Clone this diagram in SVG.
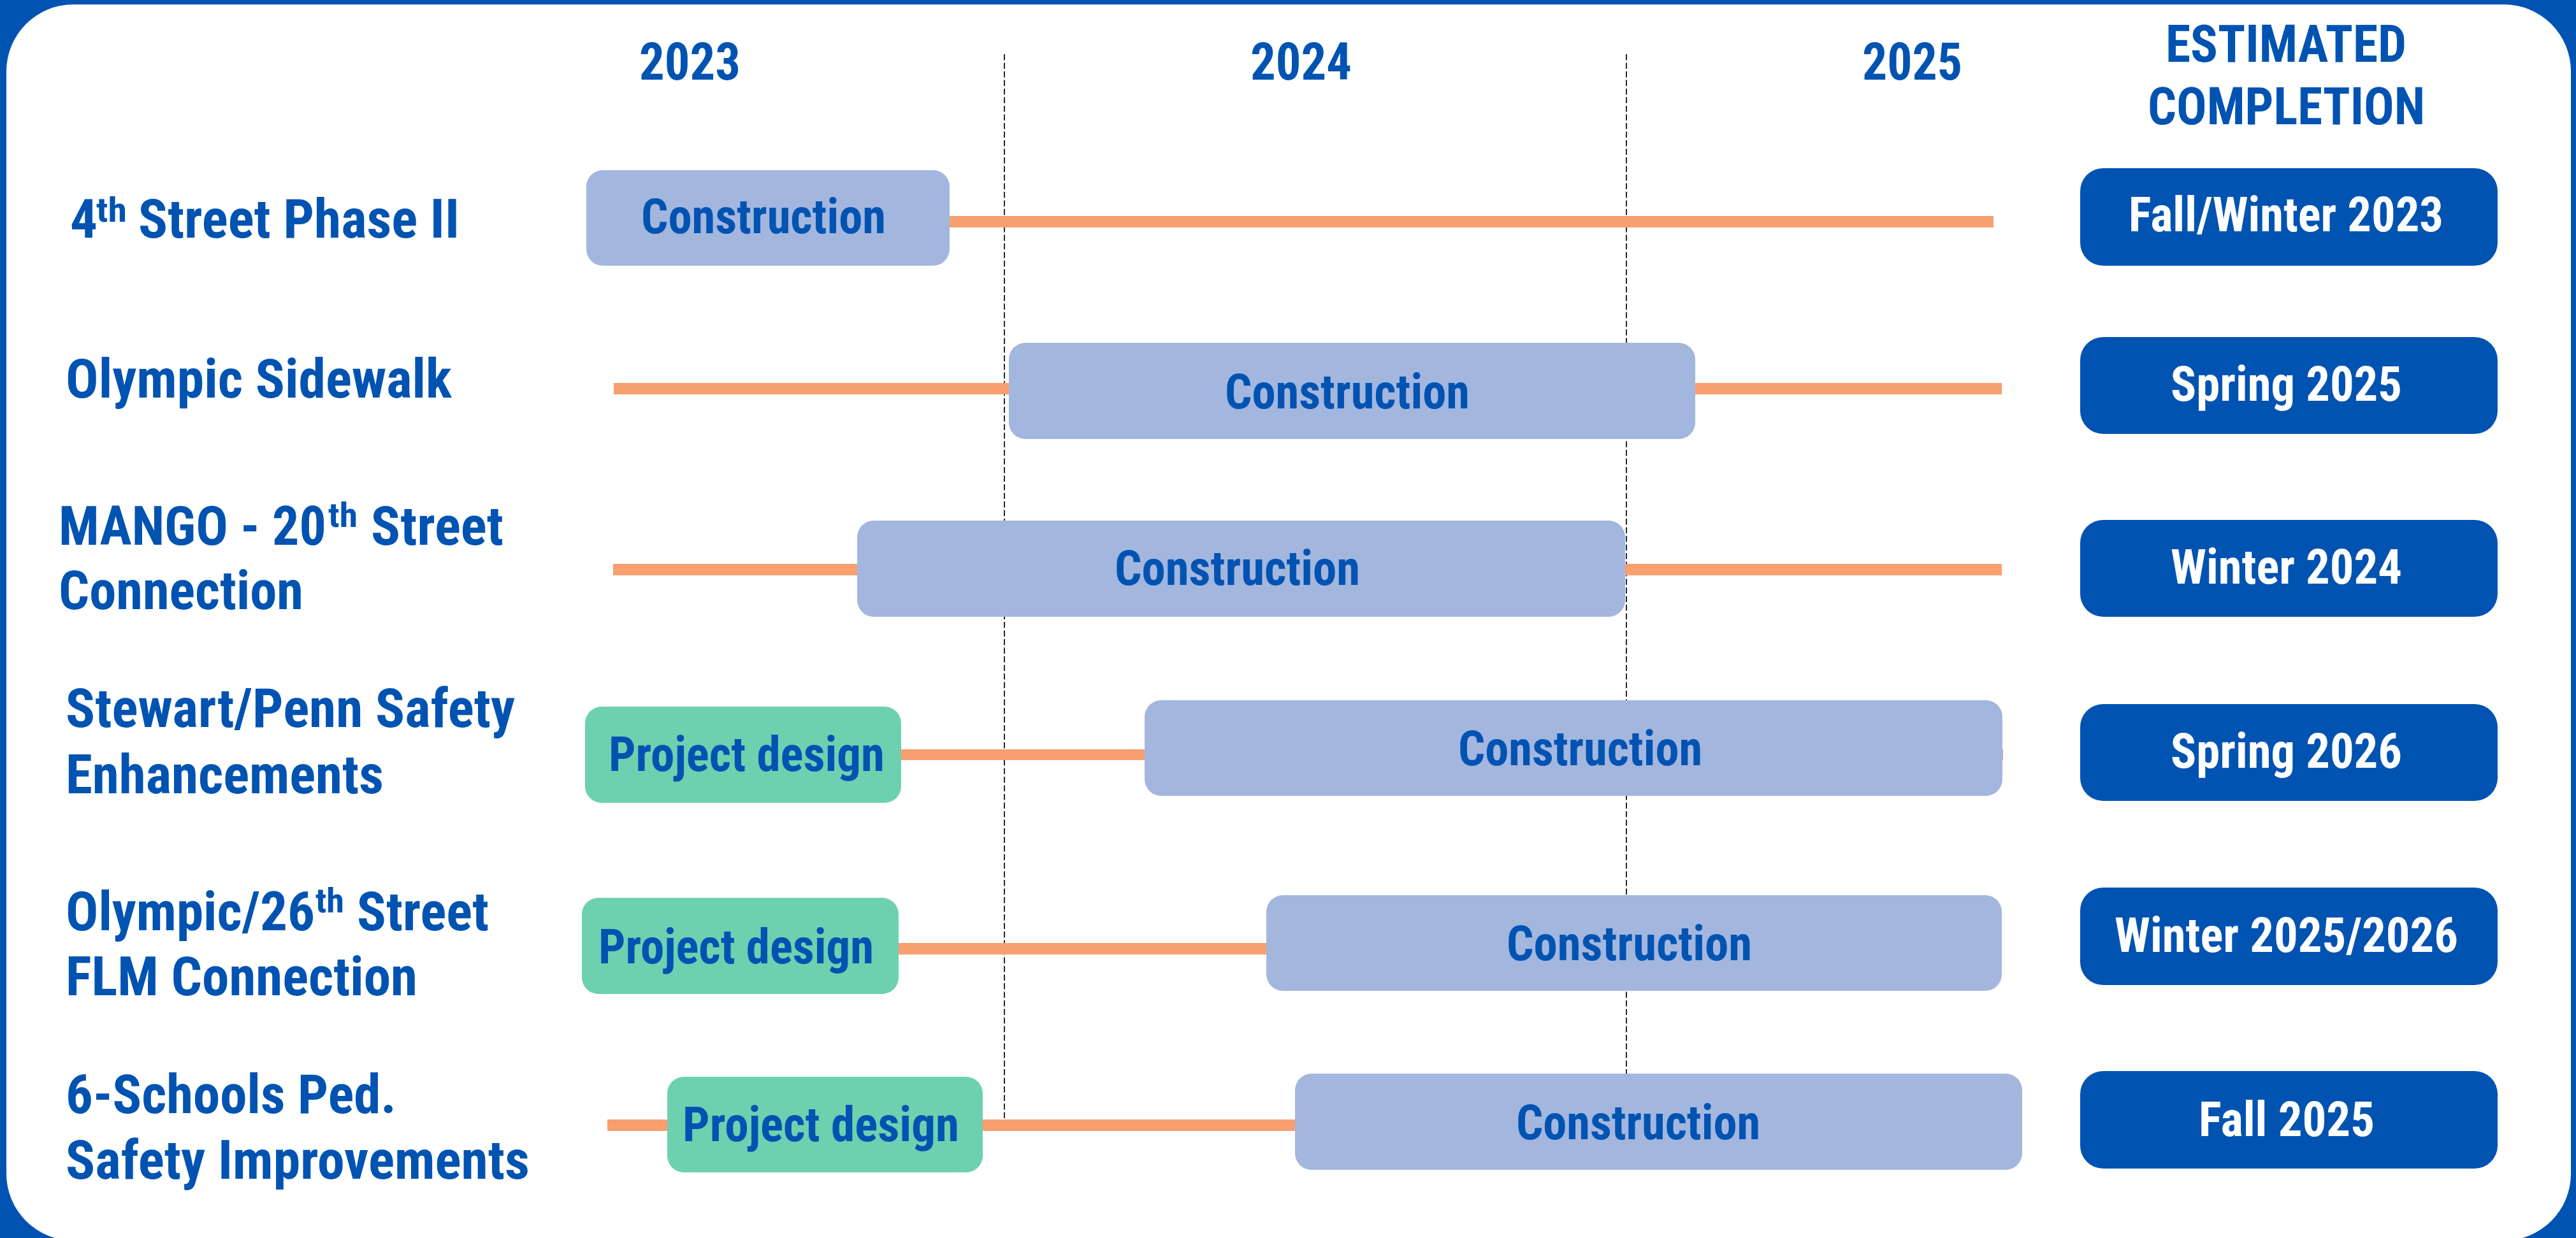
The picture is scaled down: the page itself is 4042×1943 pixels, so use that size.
<svg xmlns="http://www.w3.org/2000/svg" width="4042" height="1943" viewBox="0 0 4042 1943">
<style>
text{font-family:"Roboto Condensed","Roboto","Liberation Sans",sans-serif;font-weight:700;}
.hd{font-size:81px;fill:#0153B2;}
.lb{font-size:85px;fill:#0153B2;}
.sup{font-size:54px;fill:#0153B2;}
.bt{font-size:76px;fill:#0153B2;}
.ct{font-size:76px;fill:#FFFFFF;}
.con{fill:#A3B6DE;}
.des{fill:#6DD1B0;}
.cmp{fill:#0153B2;}
.grid{stroke:#2a2a2a;stroke-width:2;stroke-dasharray:9.5 4;fill:none;}
.ln{fill:#F79F6E;}
</style>
<rect x="0" y="0" width="4042" height="1943" fill="#0153B2"/>
<rect x="10" y="7" width="4024" height="1940" rx="105" ry="105" fill="#FFFFFF"/>

<g id="headers">
<text class="hd" x="1003" y="125" textLength="159" lengthAdjust="spacingAndGlyphs">2023</text>
<text class="hd" x="1962" y="125" textLength="159" lengthAdjust="spacingAndGlyphs">2024</text>
<text class="hd" x="2922" y="125" textLength="157" lengthAdjust="spacingAndGlyphs">2025</text>
<text class="hd" x="3398" y="97" textLength="378" lengthAdjust="spacingAndGlyphs">ESTIMATED</text>
<text class="hd" x="3370" y="195" textLength="435" lengthAdjust="spacingAndGlyphs">COMPLETION</text>
</g>

<g id="gridlines">
<line class="grid" x1="1576" y1="85" x2="1576" y2="1760"/>
<line class="grid" x1="2552" y1="85" x2="2552" y2="1690"/>
</g>

<g id="connectors">
<rect class="ln" x="1480" y="339" width="1648" height="18"/>
<rect class="ln" x="963" y="601" width="2178" height="18"/>
<rect class="ln" x="962" y="885" width="2179" height="18"/>
<rect class="ln" x="1400" y="1176" width="1743" height="17"/>
<rect class="ln" x="1400" y="1480" width="600" height="18"/>
<rect class="ln" x="953" y="1757" width="1100" height="18"/>
</g>

<g id="row1">
<text class="lb" x="110" y="373" textLength="43" lengthAdjust="spacingAndGlyphs">4</text>
<text class="sup" x="151" y="348" textLength="48" lengthAdjust="spacingAndGlyphs">th</text>
<text class="lb" x="217" y="373" textLength="504" lengthAdjust="spacingAndGlyphs">Street Phase II</text>
<g id="r1-construction">
<rect class="con" x="920" y="267" width="570" height="150" rx="26"/>
<text class="bt" x="1006" y="366" textLength="384" lengthAdjust="spacingAndGlyphs">Construction</text>
</g>
<g id="r1-completion">
<rect class="cmp" x="3264" y="264" width="655" height="153" rx="36"/>
<text class="ct" x="3340" y="363" textLength="494" lengthAdjust="spacingAndGlyphs">Fall/Winter 2023</text>
</g>
</g>

<g id="row2">
<text class="lb" x="103" y="624" textLength="606" lengthAdjust="spacingAndGlyphs">Olympic Sidewalk</text>
<g id="r2-construction">
<rect class="con" x="1583" y="538" width="1077" height="151" rx="26"/>
<text class="bt" x="1922" y="641" textLength="384" lengthAdjust="spacingAndGlyphs">Construction</text>
</g>
<g id="r2-completion">
<rect class="cmp" x="3264" y="529" width="655" height="152" rx="36"/>
<text class="ct" x="3406" y="629" textLength="363" lengthAdjust="spacingAndGlyphs">Spring 2025</text>
</g>
</g>

<g id="row3">
<text class="lb" x="92" y="855" textLength="420" lengthAdjust="spacingAndGlyphs">MANGO - 20</text>
<text class="sup" x="515" y="827" textLength="46" lengthAdjust="spacingAndGlyphs">th</text>
<text class="lb" x="582" y="855" textLength="208" lengthAdjust="spacingAndGlyphs">Street</text>
<text class="lb" x="92" y="956" textLength="384" lengthAdjust="spacingAndGlyphs">Connection</text>
<g id="r3-construction">
<rect class="con" x="1345" y="817" width="1205" height="151" rx="26"/>
<text class="bt" x="1749" y="918" textLength="385" lengthAdjust="spacingAndGlyphs">Construction</text>
</g>
<g id="r3-completion">
<rect class="cmp" x="3264" y="816" width="655" height="152" rx="36"/>
<text class="ct" x="3406" y="916" textLength="363" lengthAdjust="spacingAndGlyphs">Winter 2024</text>
</g>
</g>

<g id="row4">
<text class="lb" x="103" y="1141" textLength="705" lengthAdjust="spacingAndGlyphs">Stewart/Penn Safety</text>
<text class="lb" x="103" y="1245" textLength="499" lengthAdjust="spacingAndGlyphs">Enhancements</text>
<g id="r4-design">
<rect class="des" x="918" y="1109" width="496" height="151" rx="26"/>
<text class="bt" x="955" y="1210" textLength="433" lengthAdjust="spacingAndGlyphs">Project design</text>
</g>
<g id="r4-construction">
<rect class="con" x="1796" y="1099" width="1346" height="150" rx="26"/>
<text class="bt" x="2288" y="1201" textLength="383" lengthAdjust="spacingAndGlyphs">Construction</text>
</g>
<g id="r4-completion">
<rect class="cmp" x="3264" y="1105" width="655" height="152" rx="36"/>
<text class="ct" x="3406" y="1205" textLength="363" lengthAdjust="spacingAndGlyphs">Spring 2026</text>
</g>
</g>

<g id="row5">
<text class="lb" x="103" y="1460" textLength="391" lengthAdjust="spacingAndGlyphs">Olympic/26</text>
<text class="sup" x="495" y="1432" textLength="45" lengthAdjust="spacingAndGlyphs">th</text>
<text class="lb" x="560" y="1460" textLength="207" lengthAdjust="spacingAndGlyphs">Street</text>
<text class="lb" x="103" y="1562" textLength="552" lengthAdjust="spacingAndGlyphs">FLM Connection</text>
<g id="r5-design">
<rect class="des" x="913" y="1409" width="497" height="151" rx="26"/>
<text class="bt" x="939" y="1512" textLength="432" lengthAdjust="spacingAndGlyphs">Project design</text>
</g>
<g id="r5-construction">
<rect class="con" x="1987" y="1405" width="1154" height="150" rx="26"/>
<text class="bt" x="2364" y="1507" textLength="385" lengthAdjust="spacingAndGlyphs">Construction</text>
</g>
<g id="r5-completion">
<rect class="cmp" x="3264" y="1393" width="655" height="153" rx="36"/>
<text class="ct" x="3318" y="1494" textLength="539" lengthAdjust="spacingAndGlyphs">Winter 2025/2026</text>
</g>
</g>

<g id="row6">
<text class="lb" x="103" y="1747" textLength="519" lengthAdjust="spacingAndGlyphs">6-Schools Ped.</text>
<text class="lb" x="103" y="1850" textLength="728" lengthAdjust="spacingAndGlyphs">Safety Improvements</text>
<g id="r6-design">
<rect class="des" x="1047" y="1690" width="495" height="150" rx="26"/>
<text class="bt" x="1071" y="1791" textLength="434" lengthAdjust="spacingAndGlyphs">Project design</text>
</g>
<g id="r6-construction">
<rect class="con" x="2032" y="1685" width="1141" height="151" rx="26"/>
<text class="bt" x="2379" y="1788" textLength="383" lengthAdjust="spacingAndGlyphs">Construction</text>
</g>
<g id="r6-completion">
<rect class="cmp" x="3264" y="1681" width="655" height="153" rx="36"/>
<text class="ct" x="3450" y="1783" textLength="276" lengthAdjust="spacingAndGlyphs">Fall 2025</text>
</g>
</g>
</svg>
